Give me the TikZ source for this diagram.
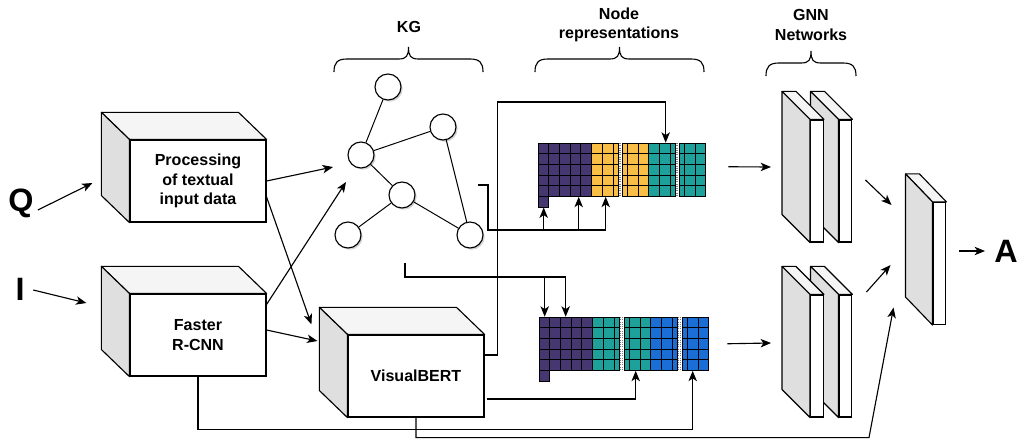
\documentclass[tikz,border=0pt]{standalone}
\usepackage{fontspec}
\setmainfont{Liberation Sans}
\usetikzlibrary{arrows.meta, positioning, calc, shadows}

\definecolor{repPurple}{HTML}{463770}
\definecolor{repYellow}{HTML}{F8BE46}
\definecolor{repTeal}{HTML}{1EA09B}
\definecolor{repBlue}{HTML}{1C6ED7}

% back faces of a box drawn from its front node
\newcommand{\depthfaces}[3]{%
  \filldraw[topface] (#1.north west) -- ++(#2,#3) -- ($(#1.north east)+(#2,#3)$) -- (#1.north east) -- cycle;
  \filldraw[sideface] (#1.north west) -- ++(#2,#3) -- ($(#1.south west)+(#2,#3)$) -- (#1.south west) -- cycle;
}
% one column of five cells
\newcommand{\cellcol}[4]{%
  \foreach \r in {0,...,4}
    \filldraw[fill=#4, draw=black, line width=0.5pt] (#1,{#2+\r*10.7}) rectangle ++(#3,10.7);
}
% curly bracket over a group
\newcommand{\capbrace}[3]{%
  \draw[bracket] (#1,#3) .. controls (#1,#3-9) and (#1+3,#3-13) .. (#1+13,#3-13)
    -- ({(#1+#2)/2-10},#3-13) .. controls ({(#1+#2)/2-2},#3-13) and ({(#1+#2)/2},#3-16) .. ({(#1+#2)/2},#3-25)
    .. controls ({(#1+#2)/2},#3-16) and ({(#1+#2)/2+2},#3-13) .. ({(#1+#2)/2+10},#3-13)
    -- (#2-13,#3-13) .. controls (#2-3,#3-13) and (#2,#3-9) .. (#2,#3);
}

\begin{document}
\begin{tikzpicture}[
      x=0.025cm, y=-0.025cm,
      font=\fontsize{11.4}{13.7}\selectfont\bfseries,
      front/.style={rectangle, draw, fill=white, line width=0.8pt, inner sep=0pt, minimum width=3.4cm, minimum height=2.05cm, align=center},
      slab/.style={rectangle, draw, fill=white, line width=0.8pt, inner sep=0pt, minimum width=0.32cm, minimum height=3.05cm},
      topface/.style={fill=gray!8, draw=black, line width=0.8pt, line join=round},
      sideface/.style={fill=gray!25, draw=black, line width=0.8pt, line join=round},
      kgnode/.style={circle, draw, fill=white, line width=0.8pt, minimum size=0.65cm, inner sep=0pt, drop shadow={opacity=0.35, shadow xshift=1.2pt, shadow yshift=-1.2pt}},
      kgedge/.style={line width=0.7pt},
      big/.style={font=\fontsize{23}{26}\selectfont\bfseries, inner sep=0pt},
      caption/.style={align=center},
      gridframe/.style={inner sep=0pt, draw=none},
      tear/.style={densely dotted, line width=0.6pt, gray},
      bracket/.style={line width=0.8pt},
      arrow/.style={-{Stealth[length=2.6mm, width=2.1mm, inset=0.7mm]}, line width=0.8pt}
    ]
    \useasboundingbox (0,0) rectangle (1021,442);

    % inputs and encoders
    \node[big] (qin) at (21,203) {Q};
    \node[big] (iin) at (20,289) {I};
    \node[front] (proc) at (198,181) {Processing\\of textual\\input data};
    \depthfaces{proc}{-28}{-27}
    \node[front] (frcnn) at (198,335) {Faster\\R-CNN};
    \depthfaces{frcnn}{-28}{-27}
    \node[front] (vbert) at (416,376) {VisualBERT};
    \depthfaces{vbert}{-28}{-27}

    % captions
    \node[caption] (kglbl) at (409,27) {KG};
    \node[caption] (replbl) at (619,25) {Node\\representations};
    \node[caption] (gnnlbl) at (811,25) {GNN\\Networks};
    \capbrace{334}{483}{72}
    \capbrace{535}{704}{72}
    \capbrace{766}{856}{76}

    % knowledge graph
    \node[kgnode] (k1) at (388,87) {};
    \node[kgnode] (k2) at (361,155) {};
    \node[kgnode] (k3) at (443,127) {};
    \node[kgnode] (k4) at (402,195) {};
    \node[kgnode] (k5) at (348,235) {};
    \node[kgnode] (k6) at (470,235) {};
    \draw[kgedge] (k1) -- (k2) (k2) -- (k3) (k2) -- (k4) (k3) -- (k6) (k4) -- (k5) (k4) -- (k6);
    \coordinate (kgin1) at (333,167);
    \coordinate (kgin2) at (346,182);
    \coordinate (kgout1) at (478,185);
    \coordinate (kgout2) at (405,263);

    % node representations
    \node[gridframe, minimum width=4.2cm, minimum height=1.3375cm] (reptop) at (622,169.75) {};
    \foreach \x/\w/\c in {538/10.7/repPurple, 548.7/10.7/repPurple, 559.4/10.7/repPurple, 570.1/10.7/repPurple, 580.8/10.7/repPurple,
        591.5/10.7/repYellow, 602.2/10.7/repYellow, 612.9/5.35/repYellow,
        622/5.35/repYellow, 627.35/10.7/repYellow, 638.05/10.7/repYellow, 648.75/10.7/repTeal, 659.45/10.7/repTeal, 670.15/5.35/repTeal,
        679/5.35/repTeal, 684.35/10.7/repTeal, 695.05/10.7/repTeal}
      {\cellcol{\x}{143}{\w}{\c}}
    \filldraw[fill=repPurple, line width=0.5pt] (538,196.5) rectangle ++(10.7,10.7);
    \foreach \x in {619.5, 620.8, 676.8, 677.8} \draw[tear] (\x,143) -- (\x,196.5);

    \node[gridframe, minimum width=4.2cm, minimum height=1.3375cm] (repbot) at (623,343.75) {};
    \foreach \x/\w/\c in {539/10.7/repPurple, 549.7/10.7/repPurple, 560.4/10.7/repPurple, 571.1/10.7/repPurple, 581.8/10.7/repPurple,
        592.5/10.7/repTeal, 603.2/10.7/repTeal, 613.9/5.35/repTeal,
        624/5.35/repTeal, 629.35/10.7/repTeal, 640.05/10.7/repTeal, 650.75/10.7/repBlue, 661.45/10.7/repBlue, 672.15/5.35/repBlue,
        682/5.35/repBlue, 687.35/10.7/repBlue, 698.05/10.7/repBlue}
      {\cellcol{\x}{317}{\w}{\c}}
    \filldraw[fill=repPurple, line width=0.5pt] (539,370.5) rectangle ++(10.7,10.7);
    \foreach \x in {620.5, 622.8, 678.8, 680.8} \draw[tear] (\x,317) -- (\x,370.5);

    % GNN networks
    \node[slab] (gnn1b) at (845.5,181) {};
    \depthfaces{gnn1b}{-28}{-28}
    \node[slab] (gnn1a) at (817,181) {};
    \depthfaces{gnn1a}{-28}{-28}
    \node[slab] (gnn2b) at (845.5,356) {};
    \depthfaces{gnn2b}{-28}{-28}
    \node[slab] (gnn2a) at (817,356) {};
    \depthfaces{gnn2a}{-28}{-28}
    \node[slab] (fin) at (939.5,263.5) {};
    \depthfaces{fin}{-27}{-28}
    \node[big] (ans) at (1006,251) {A};

    % connectors
    \draw[arrow] ($(qin.east)+(4,7)$) -- ($(proc.west)+(-37,2)$);
    \draw[arrow] ($(iin.east)+(8.5,1)$) -- ($(frcnn.west)+(-43,-32)$);
    \draw[arrow] (proc.east) -- (kgin1);
    \draw[arrow] ($(proc.east)+(0,16)$) -- ($(vbert.north west)+(-36,-10)$);
    \draw[arrow] ($(frcnn.north east)+(0,11)$) -- (kgin2);
    \draw[arrow] ($(frcnn.east)+(0,-5)$) -- ($(vbert.west)+(-30,-35)$);

    \draw[arrow] (kgout1) -- ++(10,0) -- ++(0,45) -| ($(reptop.south west)+(68,0)$);
    \draw[arrow] ($(reptop.south west)+(6,33.5)$) -- ($(reptop.south west)+(6,10.7)$);
    \draw[arrow] ($(reptop.south west)+(41,33.5)$) -- ($(reptop.south west)+(41,0)$);
    \draw[arrow] (kgout2) -- ++(0,14) -| ($(repbot.north west)+(27,0)$);
    \draw[arrow] ($(repbot.north west)+(6,-40)$) -- ($(repbot.north west)+(6,0)$);

    \draw[arrow] ($(vbert.east)+(0,-21)$) -- ++(13,0) -- ++(0,-253) -| ($(reptop.north west)+(128,0)$);
    \draw[arrow] ($(vbert.east)+(2,23)$) -| ($(repbot.south west)+(97,0)$);
    \draw[arrow] (frcnn.south) -- ++(0,53) -| ($(repbot.south west)+(154,0)$);
    \draw[arrow] (vbert.south) -- ++(0,20) -- ++(453,0) -- ($(fin.west)+(-39,44)$);

    \draw[arrow] ($(reptop.east)+(22,-3)$) -- ($(gnn1a.west)+(-39,-14)$);
    \draw[arrow] ($(repbot.east)+(20,0)$) -- ($(gnn2a.west)+(-39,-13)$);
    \draw[arrow] ($(gnn1b.east)+(13,-1)$) -- ($(fin.west)+(-41,-58.5)$);
    \draw[arrow] ($(gnn2b.east)+(14,-64)$) -- ($(fin.west)+(-42,1.5)$);
    \draw[arrow] ($(fin.east)+(13,-12.5)$) -- ($(ans.west)+(-9,0)$);
  \end{tikzpicture}
\end{document}
